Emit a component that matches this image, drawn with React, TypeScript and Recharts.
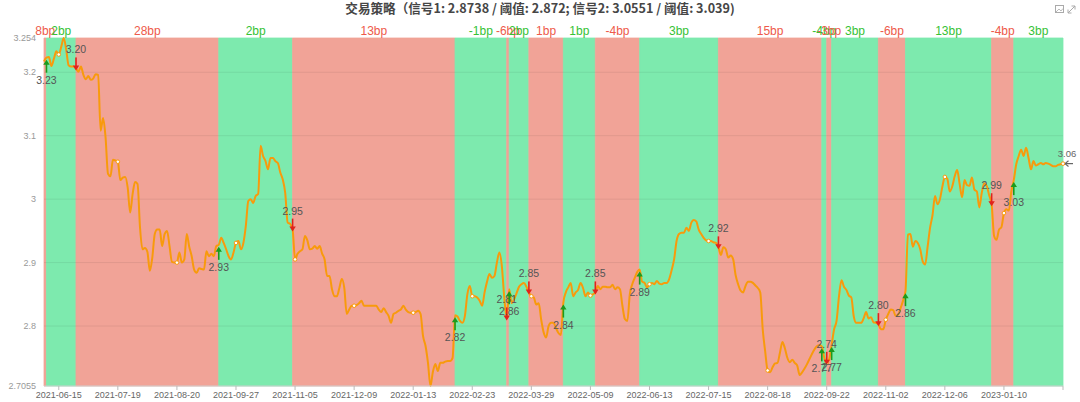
import React from 'react';
import {
  ComposedChart,
  Line,
  Scatter,
  XAxis,
  YAxis,
  ReferenceArea,
  ReferenceLine,
  ReferenceDot,
} from 'recharts';

// ---- data ----
const titleText = '交易策略（信号1: 2.8738 / 阈值: 2.872; 信号2: 3.0551 / 阈值: 3.039)';

// daily yield, one value per trading day (index 0..414)
const yieldValues: number[] = [
  3.217, 3.223, 3.224, 3.21, 3.221, 3.233, 3.228, 3.24, 3.254, 3.236,
  3.211, 3.209, 3.209, 3.206, 3.201, 3.209, 3.196, 3.189, 3.194, 3.188,
  3.19, 3.197, 3.196, 3.108, 3.128, 3.098, 3.04, 3.036, 3.062, 3.061,
  3.059, 3.03, 3.034, 3.035, 3.018, 2.979, 3.008, 3.027, 3.024, 2.956,
  2.921, 2.923, 2.917, 2.887, 2.908, 2.945, 2.952, 2.952, 2.926, 2.945,
  2.95, 2.926, 2.901, 2.9, 2.9, 2.916, 2.9, 2.905, 2.945, 2.925,
  2.91, 2.889, 2.884, 2.891, 2.89, 2.889, 2.918, 2.91, 2.914, 2.91,
  2.926, 2.928, 2.939, 2.931, 2.921, 2.91, 2.905, 2.916, 2.931, 2.934,
  2.921, 2.931, 2.958, 2.997, 3.0, 2.994, 3.005, 3.008, 3.084, 3.068,
  3.06, 3.047, 3.065, 3.065, 3.06, 3.057, 3.042, 3.031, 3.01, 2.963,
  2.961, 2.952, 2.905, 2.914, 2.918, 2.921, 2.942, 2.935, 2.921, 2.922,
  2.926, 2.922, 2.926, 2.914, 2.905, 2.879, 2.879, 2.858, 2.847, 2.847,
  2.86, 2.874, 2.86, 2.819, 2.826, 2.832, 2.832, 2.833, 2.836, 2.84,
  2.832, 2.832, 2.832, 2.832, 2.832, 2.832, 2.826, 2.822, 2.828, 2.822,
  2.816, 2.805, 2.819, 2.821, 2.824, 2.826, 2.832, 2.826, 2.822, 2.821,
  2.821, 2.822, 2.824, 2.819, 2.784, 2.769, 2.742, 2.7055, 2.728, 2.74,
  2.729, 2.742, 2.742, 2.744, 2.745, 2.745, 2.75, 2.817, 2.815, 2.808,
  2.805, 2.816, 2.85, 2.863, 2.847, 2.847, 2.845, 2.84, 2.832, 2.853,
  2.87, 2.882, 2.876, 2.879, 2.9, 2.916, 2.895, 2.845, 2.812, 2.858,
  2.836, 2.842, 2.852, 2.862, 2.866, 2.868, 2.862, 2.853, 2.847, 2.845,
  2.834, 2.836, 2.81, 2.79, 2.782, 2.8, 2.805, 2.805, 2.797, 2.789,
  2.786, 2.837, 2.853, 2.861, 2.868, 2.847, 2.853, 2.857, 2.868, 2.86,
  2.847, 2.853, 2.848, 2.85, 2.853, 2.863, 2.858, 2.862, 2.862, 2.861,
  2.861, 2.865, 2.858, 2.861, 2.858, 2.832, 2.811, 2.808, 2.85, 2.866,
  2.876, 2.885, 2.889, 2.87, 2.868, 2.861, 2.866, 2.868, 2.866, 2.871,
  2.867, 2.866, 2.868, 2.868, 2.874, 2.888, 2.905, 2.934, 2.945, 2.947,
  2.947, 2.955, 2.95, 2.963, 2.967, 2.965, 2.952, 2.945, 2.939, 2.935,
  2.934, 2.934, 2.932, 2.931, 2.924, 2.912, 2.924, 2.921, 2.908, 2.911,
  2.905, 2.88, 2.866, 2.856, 2.853, 2.863, 2.87, 2.87, 2.868, 2.864,
  2.86, 2.853, 2.795, 2.76, 2.73, 2.727, 2.735, 2.741, 2.742, 2.758,
  2.775, 2.765, 2.75, 2.743, 2.747, 2.742, 2.738, 2.723, 2.727, 2.733,
  2.74, 2.748, 2.756, 2.763, 2.768, 2.77, 2.768, 2.75, 2.742, 2.748,
  2.77, 2.795, 2.808, 2.847, 2.872, 2.862, 2.857, 2.848, 2.845, 2.815,
  2.805, 2.805, 2.805, 2.812, 2.822, 2.812, 2.814, 2.806, 2.805, 2.803,
  2.795, 2.795, 2.81, 2.819, 2.826, 2.825, 2.816, 2.818, 2.828, 2.84,
  2.855, 2.944, 2.945, 2.925, 2.934, 2.931, 2.921, 2.902, 2.897, 2.925,
  2.955, 2.975, 3.005, 2.992, 3.0, 3.02, 3.035, 3.032, 3.012, 3.02,
  3.036, 3.046, 3.024, 3.003, 3.03, 3.022, 3.021, 3.034, 3.015, 3.012,
  2.987, 3.01, 3.025, 3.021, 3.006, 2.992, 2.942, 2.936, 2.952, 2.956,
  2.978, 2.984, 2.982, 3.012, 3.03, 3.055, 3.068, 3.078, 3.068, 3.081,
  3.065, 3.047, 3.06, 3.053, 3.055, 3.057, 3.055, 3.057, 3.056, 3.054,
  3.052, 3.052, 3.054, 3.055, 3.056,
];

// x-axis: label every 24 trading days
const tickIndex = [6, 30, 54, 78, 102, 126, 150, 174, 198, 222, 246, 270, 294, 318, 342, 366, 390, 414];
const tickLabels = [
  '2021-06-15', '2021-07-19', '2021-08-20', '2021-09-27', '2021-11-05', '2021-12-09',
  '2022-01-13', '2022-02-23', '2022-03-29', '2022-05-09', '2022-06-13', '2022-07-15',
  '2022-08-18', '2022-09-22', '2022-11-02', '2022-12-06', '2023-01-10', '',
];

const yTicks = [2.7055, 2.8, 2.9, 3, 3.1, 3.2, 3.254];
const gridValues = [2.8, 2.9, 3, 3.1, 3.2];

// trade signals
const signalIdx = [1, 13, 71, 101, 167, 188, 189, 197, 211, 224, 242, 274, 316, 318, 320, 339, 350, 385, 394];
const signalDir = ['up', 'down', 'up', 'down', 'up', 'down', 'up', 'down', 'up', 'down', 'up', 'down', 'up', 'down', 'up', 'down', 'up', 'down', 'up'];
const signalLabels = ['3.23', '3.20', '2.93', '2.95', '2.82', '2.81', '2.86', '2.85', '2.84', '2.85', '2.89', '2.92', '2.77', '2.74', '2.77', '2.80', '2.86', '2.99', '3.03'];

// band P&L labels (one per segment between signals)
const bandLabels = ['8bp', '2bp', '28bp', '2bp', '13bp', '-1bp', '-6bp', '2bp', '1bp', '1bp', '-4bp', '3bp', '15bp', '-4bp', '-3bp', '3bp', '-6bp', '13bp', '-4bp', '3bp'];

const lastLabel = '3.06';

// ---- style ----
const W = 1080;
const H = 402;
const Y_MIN = 2.7055;
const Y_MAX = 3.254;
const PINK = '#f1a397';
const GREEN = '#7deaae';
const PINK_TEXT = '#ee5a4a';
const GREEN_TEXT = '#35c235';
const LINE = '#f89a0c';
const FONT = '"Liberation Sans", "Noto Sans CJK SC", sans-serif';

const tickSet = new Set(tickIndex);

const renderDot = (props: any) => {
  const { cx, cy, payload, index } = props;
  if (!tickSet.has(payload.x)) return <g key={`d${index}`} />;
  return <circle key={`d${index}`} cx={cx} cy={cy} r={1.8} fill="#fff" stroke={LINE} strokeWidth={1} />;
};

const SignalShape = (props: any) => {
  const { cx, cy, payload } = props;
  if (cx == null || cy == null) return <g />;
  const up = payload.dir === 'up';
  const color = up ? '#1d9a1d' : '#e0231c';
  if (up) {
    return (
      <g>
        <rect x={cx - 0.8} y={cy + 6} width={1.6} height={9} fill={color} />
        <path d={`M${cx},${cy + 2} L${cx - 3.2},${cy + 7} L${cx + 3.2},${cy + 7} Z`} fill={color} />
        <text x={cx} y={cy + 22} textAnchor="middle" dominantBaseline="central" fontSize={10.5} fill="#555">
          {payload.label}
        </text>
      </g>
    );
  }
  return (
    <g>
      <rect x={cx - 0.8} y={cy - 11} width={1.6} height={9} fill={color} />
      <path d={`M${cx},${cy + 2} L${cx - 3.2},${cy - 3} L${cx + 3.2},${cy - 3} Z`} fill={color} />
      <text x={cx} y={cy - 19} textAnchor="middle" dominantBaseline="central" fontSize={10.5} fill="#555">
        {payload.label}
      </text>
    </g>
  );
};

const EndShape = (props: any) => {
  const { cx, cy } = props;
  if (cx == null || cy == null) return <g />;
  return (
    <g>
      <line x1={cx + 2} y1={cy} x2={cx + 10} y2={cy} stroke="#666" strokeWidth={1.2} />
      <path d={`M${cx + 2},${cy} L${cx + 5.5},${cy - 2.8} M${cx + 2},${cy} L${cx + 5.5},${cy + 2.8}`} stroke="#666" strokeWidth={1.2} fill="none" />
      <text x={cx + 4} y={cy - 10.5} textAnchor="middle" dominantBaseline="central" fontSize={9.5} fill="#666">
        {lastLabel}
      </text>
    </g>
  );
};

export default function App() {
  const data = yieldValues.map((v, i) => ({ x: i, y: v }));
  const lastIdx = yieldValues.length - 1;
  const signals = signalIdx.map((idx, k) => ({
    x: idx,
    y: yieldValues[idx],
    dir: signalDir[k],
    label: signalLabels[k],
  }));
  const bounds = [0, ...signalIdx, lastIdx];
  const bands = bandLabels.map((label, k) => {
    // first segment precedes the first buy -> pink; then alternate
    const green = k % 2 === 1;
    return { x1: bounds[k], x2: bounds[k + 1], label, green };
  });

  return (
    <div style={{ position: 'absolute', left: 0, top: 0, width: W, height: H, background: '#fff', fontFamily: FONT }}>
      <div
        style={{
          position: 'absolute',
          left: 0,
          top: 0,
          width: W,
          textAlign: 'center',
          fontSize: 12.6,
          lineHeight: '15px',
          fontWeight: 'bold',
          color: '#464646',
          fontFamily: '"Noto Sans CJK SC", "Liberation Sans", sans-serif',
        }}
      >
        {titleText}
      </div>
      <svg style={{ position: 'absolute', left: 1052, top: 2 }} width={28} height={14}>
        <rect x={3.5} y={3.5} width={8} height={7} fill="none" stroke="#aaa" strokeWidth={1} />
        <path d="M4,10 L7,7 L9,9 L11,6.5" fill="none" stroke="#aaa" strokeWidth={0.8} />
        <path d="M16,11 L23,4 M19.5,4 L23,4 L23,7.5 M16,7.5 L16,11 L19.5,11" fill="none" stroke="#aaa" strokeWidth={1} />
      </svg>
      <ComposedChart width={W} height={H} data={data} margin={{ top: 38, right: 17, bottom: 0, left: 0 }}>
        <XAxis
          dataKey="x"
          type="number"
          domain={[0, lastIdx]}
          ticks={tickIndex}
          interval={0}
          tickFormatter={(v: number) => tickLabels[tickIndex.indexOf(v)] ?? ''}
          height={16}
          tickSize={4}
          tickMargin={2}
          tick={{ fill: '#666', fontSize: 9 }}
          axisLine={{ stroke: '#cfcfcf' }}
          tickLine={{ stroke: '#bbb' }}
        />
        <YAxis
          type="number"
          domain={[Y_MIN, Y_MAX]}
          ticks={yTicks}
          interval={0}
          width={44}
          axisLine={false}
          tickLine={false}
          tick={{ fill: '#999', fontSize: 9 }}
        />
        {bands.map((b, k) => (
          <ReferenceArea
            key={`band${k}`}
            x1={b.x1}
            x2={b.x2}
            y1={Y_MIN}
            y2={Y_MAX}
            fill={b.green ? GREEN : PINK}
            fillOpacity={1}
            stroke={b.green ? GREEN : PINK}
            strokeWidth={0.8}
            label={{
              value: b.label,
              position: 'top',
              offset: 3,
              fill: b.green ? GREEN_TEXT : PINK_TEXT,
              fontSize: 12,
            }}
          />
        ))}
        {gridValues.map((g) => (
          <ReferenceLine key={`g${g}`} y={g} stroke="#000" strokeOpacity={0.07} />
        ))}
        <Line
          dataKey="y"
          type="monotone"
          stroke={LINE}
          strokeWidth={2}
          dot={renderDot}
          activeDot={false}
          isAnimationActive={false}
        />
        <Scatter data={signals} dataKey="y" shape={SignalShape} isAnimationActive={false} />
        <ReferenceDot x={lastIdx} y={yieldValues[lastIdx]} shape={EndShape} />
      </ComposedChart>
    </div>
  );
}
